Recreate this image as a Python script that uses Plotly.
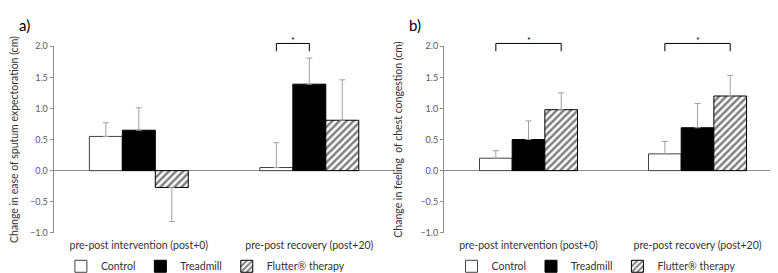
import plotly.graph_objects as go

# ---------------- data ----------------
categories = ["pre-post intervention (post+0)", "pre-post recovery (post+20)"]
groups = ["Control", "Treadmill", "Flutter® therapy"]

# panel a) change in ease of sputum expectoration (cm)
a_control = [0.55, 0.05]
a_control_sd = [0.22, 0.40]
a_treadmill = [0.65, 1.39]
a_treadmill_sd = [0.36, 0.42]
a_flutter = [-0.27, 0.81]
a_flutter_sd = [0.55, 0.65]

# panel b) change in feeling of chest congestion (cm)
b_control = [0.20, 0.27]
b_control_sd = [0.12, 0.20]
b_treadmill = [0.50, 0.69]
b_treadmill_sd = [0.30, 0.39]
b_flutter = [0.98, 1.20]
b_flutter_sd = [0.27, 0.33]

y_ticks = [-1.0, -0.5, 0.0, 0.5, 1.0, 1.5, 2.0]

# significance brackets: (category index, first group index, second group index)
a_sig = [(1, 0, 1)]
b_sig = [(0, 0, 2), (1, 0, 2)]

# ---------------- style ----------------
FONT = "Lato"
BARGAP = 0.42
Y_RANGE = [-1.0, 2.0]
Y_DOMAIN = [0.155, 0.8755]
XA_DOMAIN = [37 / 778, 382 / 778]
XB_DOMAIN = [432 / 778, 774 / 778]
ERR_COLOR = "#a0a0a0"

styles = [
    dict(color="white", line=dict(color="#404040", width=1)),
    dict(color="black", line=dict(color="black", width=1)),
    dict(color="white", line=dict(color="black", width=1),
         pattern=dict(shape="/", fgcolor="black", bgcolor="white", size=5, solidity=0.5)),
]


def err(means, sds):
    plus = [s if m >= 0 else 0 for m, s in zip(means, sds)]
    minus = [s if m < 0 else 0 for m, s in zip(means, sds)]
    return dict(type="data", symmetric=False, array=plus, arrayminus=minus,
                color=ERR_COLOR, thickness=1, width=3)


fig = go.Figure()

panels = [
    ("x", "y", "legend", [(a_control, a_control_sd), (a_treadmill, a_treadmill_sd), (a_flutter, a_flutter_sd)]),
    ("x2", "y2", "legend2", [(b_control, b_control_sd), (b_treadmill, b_treadmill_sd), (b_flutter, b_flutter_sd)]),
]

for xa, ya, leg, series in panels:
    for name, (vals, sds), st in zip(groups, series, styles):
        fig.add_trace(go.Bar(
            x=categories, y=vals, name=name, marker=st,
            error_y=err(vals, sds), xaxis=xa, yaxis=ya, legend=leg,
            showlegend=True,
        ))


def to_paper(v):
    return Y_DOMAIN[0] + (v - Y_RANGE[0]) / (Y_RANGE[1] - Y_RANGE[0]) * (Y_DOMAIN[1] - Y_DOMAIN[0])


def offset(k):
    return (k - 1) * (1 - BARGAP) / 3


BR_TOP, BR_BOT, STAR_Y = 2.045, 1.92, 2.09
for xref, sigs in (("x", a_sig), ("x2", b_sig)):
    for ci, g0, g1 in sigs:
        xl, xr = ci + offset(g0), ci + offset(g1)
        ln = dict(color="black", width=1)
        fig.add_shape(type="line", xref=xref, yref="paper", x0=xl, x1=xl,
                      y0=to_paper(BR_BOT), y1=to_paper(BR_TOP), line=ln)
        fig.add_shape(type="line", xref=xref, yref="paper", x0=xr, x1=xr,
                      y0=to_paper(BR_BOT), y1=to_paper(BR_TOP), line=ln)
        fig.add_shape(type="line", xref=xref, yref="paper", x0=xl, x1=xr,
                      y0=to_paper(BR_TOP), y1=to_paper(BR_TOP), line=ln)
        fig.add_annotation(xref=xref, yref="paper",
                           x=(xl + xr) / 2, y=to_paper(STAR_Y), text="*", showarrow=False,
                           font=dict(size=9, color="black", family=FONT), yanchor="middle")

for txt, xp in (("a)", 0.0), ("b)", 395 / 778)):
    fig.add_annotation(xref="paper", yref="paper", x=xp, y=1.0, xanchor="left", yanchor="top",
                       text=txt, showarrow=False, font=dict(size=15, color="black", family=FONT))

xaxis_common = dict(showline=False, ticks="", showgrid=False, zeroline=False,
                    ticklabelstandoff=5,
                    tickfont=dict(size=10.5, color="#333333", family=FONT))
yaxis_common = dict(range=Y_RANGE, domain=Y_DOMAIN, tickvals=y_ticks, tickformat=".1f",
                    showline=True, linecolor="#8c8c8c", linewidth=1,
                    ticks="outside", ticklen=3, tickcolor="#8c8c8c",
                    showgrid=False, zeroline=True, zerolinecolor="#8c8c8c", zerolinewidth=1,
                    tickfont=dict(size=9, color="#595959", family=FONT))

legend_common = dict(orientation="h", xanchor="center", yanchor="middle", y=0.026,
                     font=dict(size=10.5, color="#333333", family=FONT),
                     itemwidth=30, bgcolor="rgba(0,0,0,0)", tracegroupgap=0)

fig.update_layout(
    width=778, height=273,
    margin=dict(l=0, r=0, t=0, b=0),
    paper_bgcolor="white", plot_bgcolor="white",
    barmode="group", bargap=BARGAP, bargroupgap=0,
    font=dict(family=FONT, size=10, color="#333333"),
    xaxis=dict(domain=XA_DOMAIN, anchor="y", **xaxis_common),
    xaxis2=dict(domain=XB_DOMAIN, anchor="y2", **xaxis_common),
    yaxis=dict(anchor="x", title=dict(text="Change in ease of sputum expectoration (cm)",
                                      font=dict(size=10.5, color="#333333", family=FONT)),
               **yaxis_common),
    yaxis2=dict(anchor="x2", title=dict(text="Change in feeling  of chest congestion (cm)",
                                        font=dict(size=10.5, color="#333333", family=FONT)),
                **yaxis_common),
    legend=dict(x=0.245, **legend_common),
    legend2=dict(x=0.753, **legend_common),
    showlegend=True,
)

fig.write_html("out.html")
